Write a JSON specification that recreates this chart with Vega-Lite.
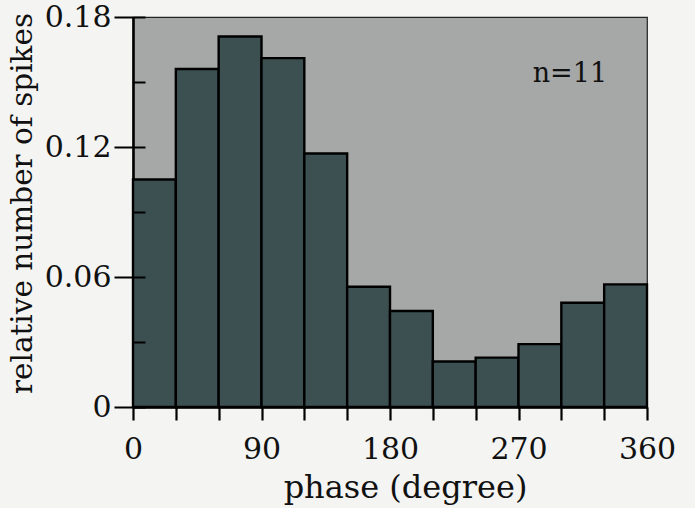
{
  "$schema": "https://vega.github.io/schema/vega-lite/v6.json",
  "width": 514,
  "height": 390,
  "autosize": {"type": "none"},
  "padding": {"left": 133, "top": 17, "right": 48, "bottom": 101},
  "background": "#f4f4f2",
  "config": {
    "view": {"fill": "#a6a7a7", "stroke": "#222222", "strokeWidth": 1.2},
    "font": "DejaVu Serif"
  },
  "datasets": {
    "bins": [
      {"phase_start": 0, "phase_end": 30, "share": 0.105},
      {"phase_start": 30, "phase_end": 60, "share": 0.156},
      {"phase_start": 60, "phase_end": 90, "share": 0.171},
      {"phase_start": 90, "phase_end": 120, "share": 0.161},
      {"phase_start": 120, "phase_end": 150, "share": 0.117},
      {"phase_start": 150, "phase_end": 180, "share": 0.0555},
      {"phase_start": 180, "phase_end": 210, "share": 0.0443},
      {"phase_start": 210, "phase_end": 240, "share": 0.021},
      {"phase_start": 240, "phase_end": 270, "share": 0.0228},
      {"phase_start": 270, "phase_end": 300, "share": 0.029},
      {"phase_start": 300, "phase_end": 330, "share": 0.0481},
      {"phase_start": 330, "phase_end": 360, "share": 0.0566}
    ],
    "note": [{"phase": 306, "share": 0.15, "label": "n=11"}]
  },
  "layer": [
    {
      "data": {"name": "bins"},
      "mark": {"type": "bar", "color": "#3d5051", "stroke": "#000000", "strokeWidth": 2.4, "opacity": 1},
      "encoding": {
        "x": {
          "field": "phase_start",
          "type": "quantitative",
          "scale": {"domain": [0, 360], "nice": false, "zero": false},
          "axis": {
            "values": [0, 30, 60, 90, 120, 150, 180, 210, 240, 270, 300, 330, 360],
            "labelExpr": "datum.value % 90 == 0 ? datum.label : ''",
            "grid": false,
            "domainColor": "#000000",
            "domainWidth": 2.6,
            "tickColor": "#000000",
            "tickWidth": 2.2,
            "tickSize": 13,
            "labelFontSize": 30,
            "labelColor": "#111111",
            "labelBaseline": "alphabetic",
            "labelPadding": 38,
            "labelFlush": false,
            "title": "phase (degree)",
            "titleFontSize": 32,
            "titleFontWeight": "normal",
            "titleColor": "#111111",
            "titleX": 272,
            "titleY": 90,
            "titleBaseline": "alphabetic"
          }
        },
        "x2": {"field": "phase_end"},
        "y": {
          "field": "share",
          "type": "quantitative",
          "scale": {"domain": [0, 0.18], "nice": false},
          "axis": {
            "values": [0, 0.06, 0.12, 0.18],
            "labelExpr": "datum.value == 0 ? '0' : format(datum.value, '.2f')",
            "grid": false,
            "offset": 0,
            "domainColor": "#000000",
            "domainWidth": 2.6,
            "tickColor": "#000000",
            "tickWidth": 2,
            "tickSize": 19,
            "labelPadding": 3,
            "labelFontSize": 30,
            "labelColor": "#111111",
            "labelFlush": false,
            "title": "relative number of spikes",
            "titleFontSize": 29.5,
            "titleFontWeight": "normal",
            "titleColor": "#111111",
            "titleAngle": -90,
            "titleAlign": "center",
            "titleBaseline": "middle",
            "titleX": -111,
            "titleY": 186
          }
        },
        "y2": {"datum": 0}
      }
    },
    {
      "data": {"name": "note"},
      "mark": {"type": "text", "fontSize": 27, "color": "#111111", "align": "center", "baseline": "alphabetic"},
      "encoding": {
        "x": {"field": "phase", "type": "quantitative"},
        "y": {
          "field": "share",
          "type": "quantitative",
          "axis": {
            "orient": "right",
            "offset": -514,
            "values": [0, 0.03, 0.06, 0.09, 0.12, 0.15, 0.18],
            "labels": false,
            "domain": false,
            "grid": false,
            "title": null,
            "tickColor": "#000000",
            "tickWidth": 2,
            "tickSize": 12,
            "zindex": 1
          }
        },
        "text": {"field": "label"}
      }
    }
  ],
  "resolve": {"axis": {"y": "independent"}}
}
